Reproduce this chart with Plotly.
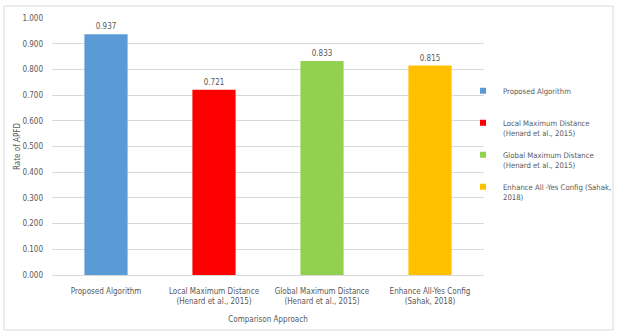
import plotly.graph_objects as go

categories = ["Proposed Algorithm",
              "Local Maximum Distance<br>(Henard et al., 2015)",
              "Global Maximum Distance<br>(Henard et al., 2015)",
              "Enhance All-Yes Config<br>(Sahak, 2018)"]
legend_names = ["Proposed Algorithm<br> ",
                "Local Maximum Distance<br>(Henard et al., 2015)",
                "Global Maximum Distance<br>(Henard et al., 2015)",
                "Enhance All -Yes Config (Sahak,<br>2018)"]
values = [0.937, 0.721, 0.833, 0.815]
colors = ["#5B9BD5", "#FF0000", "#92D050", "#FFC000"]
y_ticks = [0.0, 0.1, 0.2, 0.3, 0.4, 0.5, 0.6, 0.7, 0.8, 0.9, 1.0]

FONT = "Liberation Sans Narrow, DejaVu Sans Condensed, sans-serif"
GRAY = "#595959"
FS = 8

fig = go.Figure()
fig.add_trace(go.Bar(
    x=categories, y=values, marker=dict(color=colors, line=dict(width=0)),
    width=0.4, text=[f"{v:.3f}" for v in values], textposition="outside",
    textfont=dict(size=FS, color=GRAY, family=FONT), cliponaxis=False,
    showlegend=False))
for i, (name, c) in enumerate(zip(legend_names, colors)):
    fig.add_trace(go.Scatter(x=[None], y=[None], mode="markers", name=name,
                             legendgroup=f"g{i}",
                             marker=dict(symbol="square", size=6, color=c)))

fig.update_layout(
    width=617, height=333,
    margin=dict(l=52, r=133, t=18, b=58, autoexpand=False),
    paper_bgcolor="white", plot_bgcolor="white",
    font=dict(family=FONT, size=FS, color=GRAY),
    legend=dict(x=(463 - 52) / 432, y=0.762, xanchor="left", yanchor="top",
                font=dict(size=7.7, color=GRAY, family=FONT),
                itemwidth=30, valign="top", tracegroupgap=9,
                bgcolor="rgba(0,0,0,0)"),
    xaxis=dict(showgrid=False, showline=True, linecolor="#d9d9d9",
               tickfont=dict(size=FS, color=GRAY), ticks="", tickangle=0,
               ticklabelstandoff=8,
               title=dict(text="Comparison Approach", font=dict(size=FS, color=GRAY), standoff=11)),
    yaxis=dict(range=[0, 1.0], tickvals=y_ticks, tickformat=".3f",
               showgrid=True, gridcolor="#d9d9d9", gridwidth=1, zeroline=False,
               tickfont=dict(size=FS, color=GRAY), ticks="", ticklabelstandoff=8,
               title=dict(text="Rate of APFD", font=dict(size=FS, color=GRAY), standoff=0)),
    shapes=[dict(type="rect", xref="paper", yref="paper",
                 x0=-48/432, x1=(613-52)/432, y0=-(330-275)/257, y1=(275-6)/257,
                 line=dict(color="#d9d9d9", width=1), fillcolor="rgba(0,0,0,0)")],
)
fig.write_html("out.html")
